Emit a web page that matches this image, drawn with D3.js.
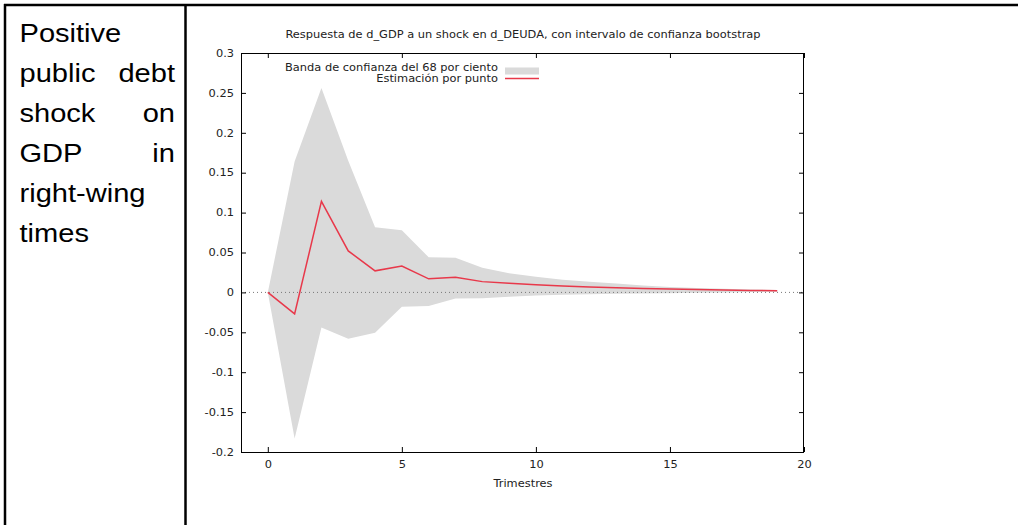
<!DOCTYPE html>
<html>
<head>
<meta charset="utf-8">
<script src="https://cdn.jsdelivr.net/npm/d3@7"></script>
<style>
  html, body { margin: 0; padding: 0; background: #fff; }
  svg { display: block; }
</style>
</head>
<body>
<svg id="chart" width="1018" height="525"></svg>
<script>
// ---- data ----
const periods  = [0, 1, 2, 3, 4, 5, 6, 7, 8, 9, 10, 11, 12, 13, 14, 15, 16, 17, 18, 19];
const estimate = [0, -0.027, 0.114, 0.052, 0.027, 0.033, 0.017, 0.019, 0.0135, 0.0115, 0.0097, 0.008, 0.0068, 0.0058, 0.005, 0.0042, 0.0035, 0.003, 0.0025, 0.002];
const upper    = [0, 0.164, 0.256, 0.165, 0.0815, 0.078, 0.044, 0.0435, 0.031, 0.024, 0.0197, 0.016, 0.0134, 0.011, 0.0088, 0.0068, 0.0055, 0.0045, 0.0037, 0.003];
const lower    = [0, -0.183, -0.044, -0.058, -0.0505, -0.018, -0.017, -0.0075, -0.0074, -0.0055, -0.004, -0.003, -0.0024, -0.0018, -0.0013, -0.001, -0.0005, 0, 0.0004, 0.0008];
const yTicks   = [-0.2, -0.15, -0.1, -0.05, 0, 0.05, 0.1, 0.15, 0.2, 0.25, 0.3];
const xTicks   = [0, 5, 10, 15, 20];
const title    = "Respuesta de d_GDP a un shock en d_DEUDA, con intervalo de confianza bootstrap";
const xLabel   = "Trimestres";
const legendBand = "Banda de confianza del 68 por ciento";
const legendLine = "Estimación por punto";
const cellLines = [["Positive"], ["public", "debt"], ["shock", "on"], ["GDP", "in"], ["right-wing"], ["times"]];

const svg = d3.select("#chart");
const SX = 1.14; // horizontal text stretch seen in the reference

// ---- table borders ----
const tb = svg.append("g").attr("stroke", "#000").attr("stroke-width", 2.5);
tb.append("line").attr("x1", 4).attr("x2", 1018).attr("y1", 5).attr("y2", 5);
tb.append("line").attr("x1", 5).attr("x2", 5).attr("y1", 4).attr("y2", 525);
tb.append("line").attr("x1", 185.5).attr("x2", 185.5).attr("y1", 4).attr("y2", 525);

function stretchedText(g, tx, ty, str, anchor) {
  return g.append("text").attr("transform", `translate(${tx},${ty}) scale(${SX},1)`)
    .attr("text-anchor", anchor || "start").text(str);
}

// ---- left cell text (justified) ----
const cellLeft = 19.5, cellRight = 175;
const ct = svg.append("g").attr("font-family", "'Liberation Sans', Arial, sans-serif")
  .attr("font-size", 25.5).attr("fill", "#000");
cellLines.forEach((words, i) => {
  const yy = 42 + i * 40;
  stretchedText(ct, cellLeft, yy, words[0], "start");
  if (words.length > 1) stretchedText(ct, cellRight, yy, words[1], "end");
});

// ---- plot ----
const L = 241, R = 804, T = 53, B = 452;
const x = d3.scaleLinear().domain([-1, 20]).range([L, R]);
const y = d3.scaleLinear().domain([-0.2, 0.3]).range([B, T]);

const font = "'DejaVu Sans', Verdana, sans-serif";

// band
const area = d3.area().x((d, i) => x(periods[i])).y0((d, i) => y(lower[i])).y1((d, i) => y(upper[i]));
svg.append("path").datum(periods).attr("d", area).attr("fill", "#dadada");

// zero line
svg.append("line").attr("x1", L).attr("x2", R).attr("y1", y(0)).attr("y2", y(0))
  .attr("stroke", "#777").attr("stroke-width", 1).attr("stroke-dasharray", "1,3");

// estimate line
const line = d3.line().x((d, i) => x(periods[i])).y((d, i) => y(estimate[i]));
svg.append("path").datum(periods).attr("d", line).attr("fill", "none")
  .attr("stroke", "#e8384a").attr("stroke-width", 1.5).attr("stroke-linejoin", "miter");

// axes
const fmt = d => String(d);
const axL = d3.axisLeft(y).tickValues(yTicks).tickSize(-5).tickPadding(7).tickFormat(fmt);
const axR = d3.axisRight(y).tickValues(yTicks).tickSize(-5).tickFormat("");
const axB = d3.axisBottom(x).tickValues(xTicks).tickSize(-5).tickPadding(9).tickFormat(fmt);
const axT = d3.axisTop(x).tickValues(xTicks).tickSize(-5).tickFormat("");

function styleAxis(g) {
  g.select(".domain").remove();
  g.selectAll(".tick line").attr("stroke", "#000");
  g.selectAll(".tick text").attr("fill", "#222").attr("font-family", font).attr("font-size", 10)
    .each(function() {
      const t = d3.select(this);
      const tx = +t.attr("x") || 0;
      t.attr("x", 0).attr("transform", `translate(${tx},0) scale(${SX},1)`);
    });
}
svg.append("g").attr("transform", `translate(${L},0)`).call(axL).call(styleAxis);
svg.append("g").attr("transform", `translate(${R},0)`).call(axR).call(styleAxis);
svg.append("g").attr("transform", `translate(0,${B})`).call(axB).call(styleAxis);
svg.append("g").attr("transform", `translate(0,${T})`).call(axT).call(styleAxis);

// frame
svg.append("rect").attr("x", L + 0.5).attr("y", T + 0.5).attr("width", R - L - 1).attr("height", B - T)
  .attr("fill", "none").attr("stroke", "#000").attr("stroke-width", 1);

// title & x label
const tg = svg.append("g").attr("font-family", font).attr("font-size", 10).attr("fill", "#222");
stretchedText(tg, 523, 38, title, "middle");
stretchedText(tg, 523, 487, xLabel, "middle");

// legend
const lg = svg.append("g").attr("font-family", font).attr("font-size", 10).attr("fill", "#222");
stretchedText(lg, 498, 70.5, legendBand, "end");
lg.append("rect").attr("x", 505).attr("y", 67.5).attr("width", 34).attr("height", 7).attr("fill", "#dadada");
stretchedText(lg, 498, 82, legendLine, "end");
lg.append("line").attr("x1", 505).attr("x2", 539).attr("y1", 78.5).attr("y2", 78.5)
  .attr("stroke", "#e8384a").attr("stroke-width", 1.5);
</script>
</body>
</html>
